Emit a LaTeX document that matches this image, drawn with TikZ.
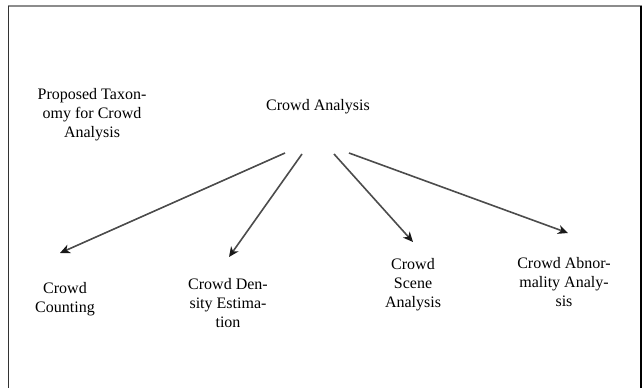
\documentclass[tikz,border=0pt]{standalone}
\usepackage{fontspec}
\setmainfont{Liberation Serif}
\usetikzlibrary{arrows.meta}
\begin{document}
\begin{tikzpicture}[x=1pt,y=-1pt,
  lbl/.style={inner sep=0pt,align=center,font=\fontsize{16}{19}\selectfont},
  conn/.style={draw=black!70,line width=1.6pt,-{Stealth[length=10pt,width=9pt,inset=3pt,color=black!90]}}]
\useasboundingbox (0,0) rectangle (644,388);
\fill[white] (0,0) rectangle (644,388);
% frame
\draw[line width=2pt,black!45] (8,6) -- (642,6);
\draw[line width=1.5pt,black!80] (8.5,6) -- (8.5,388);
\draw[line width=2pt,black] (641,6) -- (641,388);
% nodes
\node[lbl] (tax) at (92,115) {Proposed Taxon-\\omy for Crowd\\Analysis};
\node[lbl] (root) at (318,107) {Crowd Analysis};
\node[lbl] (count) at (65,299) {Crowd\\Counting};
\node[lbl] (dens) at (228,303) {Crowd Den-\\sity Estima-\\tion};
\node[lbl] (scene) at (413,285) {Crowd\\Scene\\Analysis};
\node[lbl] (abn) at (564,282) {Crowd Abnor-\\mality Analy-\\sis};
% connector ends
\coordinate (s1) at (285,153);
\coordinate (s2) at (302,154);
\coordinate (s3) at (334,154);
\coordinate (s4) at (349,153);
\coordinate (e1) at (60,253);
\coordinate (e2) at (229,257);
\coordinate (e3) at (413,242);
\coordinate (e4) at (568,233);
\draw[conn] (s1) -- (e1);
\draw[conn] (s2) -- (e2);
\draw[conn] (s3) -- (e3);
\draw[conn] (s4) -- (e4);
\end{tikzpicture}
\end{document}
